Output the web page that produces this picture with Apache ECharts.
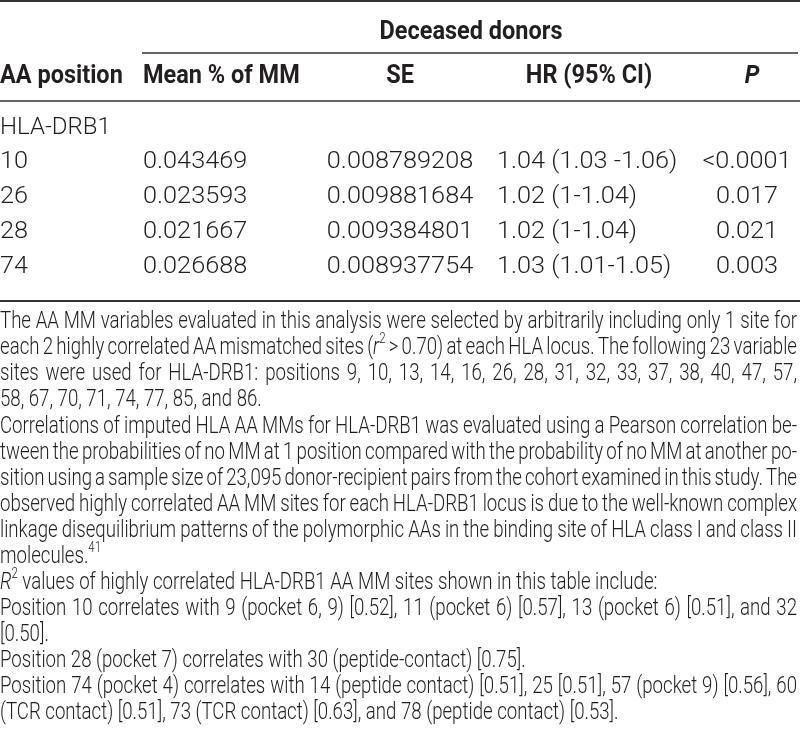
<!DOCTYPE html>
<html><head><meta charset="utf-8">
<script src="https://cdn.jsdelivr.net/npm/echarts@6/dist/echarts.min.js"></script>
<style>html,body{margin:0;padding:0;background:#fff}#c{width:800px;height:739px}</style>
</head><body><div id="c"></div>
<script>
// ---------- data ----------
const groupHeader = 'Deceased donors';
const columnHeaders = ['AA position', 'Mean % of MM', 'SE', 'HR (95% CI)', 'P'];
const locusLabel = 'HLA-DRB1';
const aaPositions = ['10', '26', '28', '74'];
const meanPctMM = ['0.043469', '0.023593', '0.021667', '0.026688'];
const seValues = ['0.008789208', '0.009881684', '0.009384801', '0.008937754'];
const hrCI = ['1.04 (1.03 -1.06)', '1.02 (1-1.04)', '1.02 (1-1.04)', '1.03 (1.01-1.05)'];
const pValues = ['<0.0001', '0.017', '0.021', '0.003'];
// footnote lines: _x_ = italic, ^x^ = superscript; second item = justified
const footnoteLines = [
  ['The AA MM variables evaluated in this analysis were selected by arbitrarily including only 1 site for', true],
  ['each 2 highly correlated AA mismatched sites (_r_^2^ > 0.70) at each HLA locus. The following 23 variable', true],
  ['sites were used for HLA-DRB1: positions 9, 10, 13, 14, 16, 26, 28, 31, 32, 33, 37, 38, 40, 47, 57,', true],
  ['58, 67, 70, 71, 74, 77, 85, and 86.', false],
  ['Correlations of imputed HLA AA MMs for HLA-DRB1 was evaluated using a Pearson correlation be-', true],
  ['tween the probabilities of no MM at 1 position compared with the probability of no MM at another po-', true],
  ['sition using a sample size of 23,095 donor-recipient pairs from the cohort examined in this study. The', true],
  ['observed highly correlated AA MM sites for each HLA-DRB1 locus is due to the well-known complex', true],
  ['linkage disequilibrium patterns of the polymorphic AAs in the binding site of HLA class I and class II', true],
  ['molecules.^41^', false],
  ['_R_^2^ values of highly correlated HLA-DRB1 AA MM sites shown in this table include:', false],
  ['Position 10 correlates with 9 (pocket 6, 9) [0.52], 11 (pocket 6) [0.57], 13 (pocket 6) [0.51], and 32', true],
  ['[0.50].', false],
  ['Position 28 (pocket 7) correlates with 30 (peptide-contact) [0.75].', false],
  ['Position 74 (pocket 4) correlates with 14 (peptide contact) [0.51], 25 [0.51], 57 (pocket 9) [0.56], 60', true],
  ['(TCR contact) [0.51], 73 (TCR contact) [0.63], and 78 (peptide contact) [0.53].', false]
];

// ---------- style / layout ----------
const FONT = 'Roboto';
const TXT = '#231f20';
const LINE = '#333333';
const BODY_SIZE = 23, BODY_WEIGHT = 300, BODY_SCALE = 1.1;
const HEAD_SIZE = 25, HEAD_WEIGHT = 'bold', HEAD_SCALE = 0.94;
const NOTE_SIZE = 23, NOTE_WEIGHT = 300, SUP_SIZE = 14, NOTE_WIDEN = 1.03;
const headerCols = [{x: 0, a: 'left'}, {x: 143, a: 'left'}, {x: 400, a: 'center'}, {x: 589, a: 'center'}, {x: 752, a: 'center'}];
const bodyCols = [{x: 0, a: 'left'}, {x: 143, a: 'left'}, {x: 400, a: 'center'}, {x: 497, a: 'left'}, {x: 747, a: 'center'}];
const GROUP_Y = 33, HEADER_Y = 77, LOCUS_Y = 128, ROW0_Y = 162, ROW_H = 35;
const NOTE_Y0 = 322.5, NOTE_LH = 26.07, NOTE_RIGHT = 797;

const ctx = document.createElement('canvas').getContext('2d');
function measure(t, size, weight, style) {
  ctx.font = (style || 'normal') + ' ' + weight + ' ' + size + 'px ' + FONT;
  return ctx.measureText(t).width;
}
function txt(t, x, y, o) {
  o = o || {};
  return {
    type: 'text', x: x, y: y, scaleX: o.scale || 1, silent: true,
    style: {
      text: t, fill: TXT, fontFamily: FONT,
      fontSize: o.size || BODY_SIZE, fontWeight: o.weight || BODY_WEIGHT,
      fontStyle: o.style || 'normal', align: o.align || 'left', verticalAlign: 'middle'
    }
  };
}
function hline(x1, x2, y, w) {
  return {type: 'line', silent: true, shape: {x1: x1, y1: y, x2: x2, y2: y}, style: {stroke: LINE, lineWidth: w}};
}

const els = [];
// rules
els.push(hline(0, 800, 1, 2));
els.push(hline(142, 798, 53, 1.5));
els.push(hline(0, 800, 101, 1.5));
els.push(hline(0, 800, 301, 2));

// header
els.push(txt(groupHeader, 471, GROUP_Y, {size: HEAD_SIZE, weight: HEAD_WEIGHT, scale: HEAD_SCALE, align: 'center'}));
columnHeaders.forEach(function (h, i) {
  els.push(txt(h, headerCols[i].x, HEADER_Y, {size: HEAD_SIZE, weight: HEAD_WEIGHT, scale: HEAD_SCALE,
    align: headerCols[i].a, style: i === 4 ? 'italic' : 'normal'}));
});
// body
els.push(txt(locusLabel, 0, LOCUS_Y, {scale: BODY_SCALE * 0.95}));
const bodyCols2 = [aaPositions, meanPctMM, seValues, hrCI, pValues];
aaPositions.forEach(function (_, r) {
  bodyCols2.forEach(function (col, c) {
    els.push(txt(col[r], bodyCols[c].x, ROW0_Y + r * ROW_H, {scale: BODY_SCALE, align: bodyCols[c].a}));
  });
});

// footnotes with justification
function parseWord(w) {
  const segs = [];
  const re = /_([^_]+)_|\^([^^]+)\^|([^_^]+)/g;
  let m;
  while ((m = re.exec(w))) {
    if (m[1]) segs.push({t: m[1], k: 'i'});
    else if (m[2]) segs.push({t: m[2], k: 'sup'});
    else segs.push({t: m[3], k: 'n'});
  }
  segs.forEach(function (s) {
    s.w = s.k === 'sup' ? measure(s.t, SUP_SIZE, NOTE_WEIGHT) :
      measure(s.t, NOTE_SIZE, NOTE_WEIGHT, s.k === 'i' ? 'italic' : 'normal');
  });
  return segs;
}
const spaceW = measure(' ', NOTE_SIZE, NOTE_WEIGHT);
const lines = footnoteLines.map(function (l) {
  const words = l[0].split(' ').map(parseWord);
  const wordsW = words.map(function (s) { return s.reduce(function (a, b) { return a + b.w; }, 0); });
  const sumW = wordsW.reduce(function (a, b) { return a + b; }, 0);
  return {words: words, wordsW: wordsW, sumW: sumW, natural: sumW + spaceW * (words.length - 1), just: l[1]};
});
let maxNat = 0;
lines.forEach(function (l) { if (l.just) maxNat = Math.max(maxNat, l.natural); });
const NOTE_SCALE = NOTE_RIGHT / maxNat * NOTE_WIDEN;
const inner = NOTE_RIGHT / NOTE_SCALE;
const noteChildren = [];
lines.forEach(function (l, i) {
  const y = NOTE_Y0 + i * NOTE_LH;
  const gap = l.just ? (inner - l.sumW) / (l.words.length - 1) : spaceW;
  let x = 0;
  l.words.forEach(function (segs, wi) {
    segs.forEach(function (s) {
      if (s.k === 'sup') {
        noteChildren.push(txt(s.t, x, y - 9, {size: SUP_SIZE, weight: NOTE_WEIGHT}));
      } else {
        noteChildren.push(txt(s.t, x, y, {size: NOTE_SIZE, weight: NOTE_WEIGHT, style: s.k === 'i' ? 'italic' : 'normal'}));
      }
      x += s.w;
    });
    x += gap;
  });
});
els.push({type: 'group', x: 0, y: 0, scaleX: NOTE_SCALE, children: noteChildren});

const chart = echarts.init(document.getElementById('c'), null, {renderer: 'canvas'});
chart.setOption({backgroundColor: '#ffffff', animation: false, graphic: {elements: els}});
</script>
</body></html>
